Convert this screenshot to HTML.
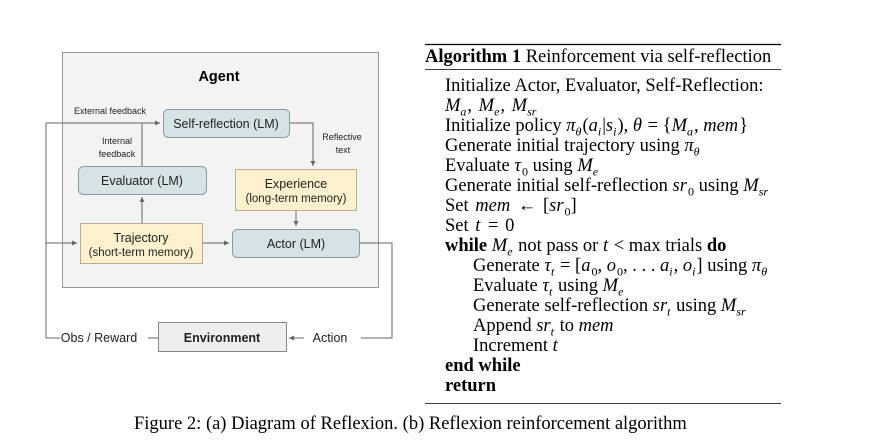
<!DOCTYPE html>
<html><head><meta charset="utf-8"><style>
body{margin:0;width:885px;height:444px;background:#fff;position:relative;overflow:hidden}
svg{position:absolute;left:0;top:0}
.alg{position:absolute;left:425px;top:44px;width:356px;font-family:"Liberation Serif",serif;font-size:18.5px;color:#000}
.alg .l{position:absolute;white-space:nowrap;line-height:20px}
sub{font-size:12px;line-height:0}
i{font-style:italic;margin-right:1px}
.m{word-spacing:2px}
</style></head><body>
<svg width="885" height="444" font-family="Liberation Sans, sans-serif">
<defs><marker id="a" markerWidth="6" markerHeight="6" refX="5" refY="3" orient="auto"><path d="M0,0.5 L5,3 L0,5.5z" fill="#666"/></marker></defs>
<rect x="62.5" y="52.5" width="316" height="235" fill="#f3f3f3" stroke="#999"/>
<text x="219" y="81" font-size="14.5" font-weight="bold" text-anchor="middle">Agent</text>
<g stroke="#666" fill="none" stroke-width="1">
<path d="M46,123 H160" marker-end="url(#a)"/>
<path d="M142,166 V123"/>
<path d="M289,123 H313 V166" marker-end="url(#a)"/>
<path d="M142,223 V197" marker-end="url(#a)"/>
<path d="M296,210 V226" marker-end="url(#a)"/>
<path d="M202,243 H229" marker-end="url(#a)"/>
<path d="M46,243 H77" marker-end="url(#a)"/>
<path d="M359,243 H392 V338 H361"/>
<path d="M304,338 H289" marker-end="url(#a)"/>
<path d="M46,123 V338 H60"/>
<path d="M148,338 H158"/>
</g>
<g stroke="#8a9aa0" stroke-width="1">
<rect x="163.5" y="109.5" width="126" height="28" rx="5" fill="#d5e3e7"/>
<rect x="78.5" y="166.5" width="128" height="28" rx="5" fill="#d5e3e7"/>
<rect x="232.5" y="229.5" width="127" height="28" rx="5" fill="#d5e3e7"/>
</g>
<g stroke="#b8ad90" fill="#fdf1cd">
<rect x="235.5" y="169.5" width="121" height="41"/>
<rect x="80.5" y="223.5" width="122" height="40"/>
</g>
<rect x="158.5" y="322.5" width="128" height="29" fill="#eeeeee" stroke="#888"/>
<g font-size="12.5" fill="#222" text-anchor="middle">
<text x="226" y="128">Self-reflection (LM)</text>
<text x="142" y="185">Evaluator (LM)</text>
<text x="296" y="188">Experience</text>
<text x="296" y="202" font-size="11.5">(long-term memory)</text>
<text x="141" y="242">Trajectory</text>
<text x="141" y="256" font-size="11.5">(short-term memory)</text>
<text x="296" y="248">Actor (LM)</text>
<text x="222" y="342" font-weight="bold">Environment</text>
<text x="99" y="342">Obs / Reward</text>
<text x="330" y="342">Action</text>
</g>
<g font-size="9" fill="#222" text-anchor="middle">
<text x="110" y="114">External feedback</text>
<text x="117" y="144">Internal</text>
<text x="117" y="157">feedback</text>
<text x="342" y="140">Reflective</text>
<text x="343" y="153">text</text>
</g>
<line x1="425" y1="44.5" x2="781" y2="44.5" stroke="#000" stroke-width="1.2"/>
<line x1="425" y1="69.5" x2="781" y2="69.5" stroke="#000" stroke-width="0.8"/>
<line x1="425" y1="403.5" x2="781" y2="403.5" stroke="#000" stroke-width="0.8"/>
</svg>
<div class="alg">
<div class="l" style="left:0;top:3px"><b>Algorithm 1</b> Reinforcement via self-reflection</div>
<div class="l" style="left:20px;top:32px">Initialize Actor, Evaluator, Self-Reflection:</div>
<div class="l m" style="left:20px;top:52px"><i>M<sub>a</sub></i>, <i>M<sub>e</sub></i>, <i>M<sub>sr</sub></i></div>
<div class="l" style="left:20px;top:72px">Initialize policy <i>π<sub>θ</sub></i>(<i>a<sub>i</sub></i>|<i>s<sub>i</sub></i>), <i>θ</i> = {<i>M<sub>a</sub></i>, <i>mem</i>}</div>
<div class="l" style="left:20px;top:92px">Generate initial trajectory using <i>π<sub>θ</sub></i></div>
<div class="l" style="left:20px;top:112px">Evaluate <i>τ</i><sub>0</sub> using <i>M<sub>e</sub></i></div>
<div class="l" style="left:20px;top:132px">Generate initial self-reflection <i>sr</i><sub>0</sub> using <i>M<sub>sr</sub></i></div>
<div class="l m" style="left:20px;top:152px">Set <i>mem</i> ← [<i>sr</i><sub>0</sub>]</div>
<div class="l m" style="left:20px;top:172px">Set <i>t</i> = 0</div>
<div class="l" style="left:20px;top:192px"><b>while</b> <i>M<sub>e</sub></i> not pass or <i>t</i> &lt; max trials <b>do</b></div>
<div class="l" style="left:48px;top:212px">Generate <i>τ<sub>t</sub></i> = [<i>a</i><sub>0</sub>, <i>o</i><sub>0</sub>, . . . <i>a<sub>i</sub></i>, <i>o<sub>i</sub></i>] using <i>π<sub>θ</sub></i></div>
<div class="l" style="left:48px;top:232px">Evaluate <i>τ<sub>t</sub></i> using <i>M<sub>e</sub></i></div>
<div class="l" style="left:48px;top:252px">Generate self-reflection <i>sr<sub>t</sub></i> using <i>M<sub>sr</sub></i></div>
<div class="l" style="left:48px;top:272px">Append <i>sr<sub>t</sub></i> to <i>mem</i></div>
<div class="l" style="left:48px;top:292px">Increment <i>t</i></div>
<div class="l" style="left:20px;top:312px"><b>end while</b></div>
<div class="l" style="left:20px;top:332px"><b>return</b></div>
</div>
<div style="position:absolute;left:134px;top:414px;font-family:'Liberation Serif',serif;font-size:18.5px;white-space:nowrap">Figure 2: (a) Diagram of Reflexion. (b) Reflexion reinforcement algorithm</div>
</body></html>
